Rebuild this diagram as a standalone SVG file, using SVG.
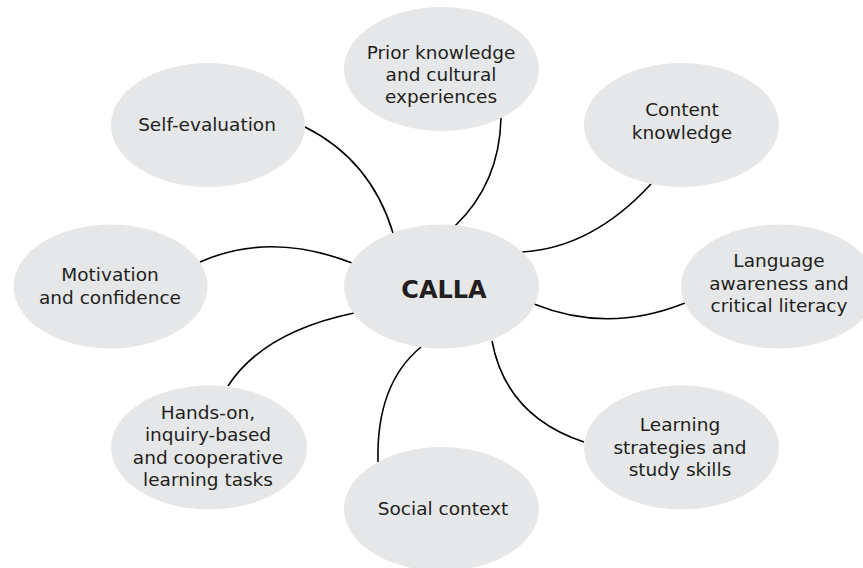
<svg xmlns="http://www.w3.org/2000/svg" width="863" height="568" viewBox="0 0 863 568">
<style>
.node ellipse{fill:#e6e7e8;stroke:none}
.node text{font-family:"DejaVu Sans","Liberation Sans",sans-serif;font-size:18.5px;fill:#231f20;text-anchor:middle}
#calla text{font-size:24px;font-weight:bold}
#connectors path{fill:none;stroke:#000;stroke-width:1.6}
</style>
<rect width="863" height="568" fill="#fff"/>
<g id="connectors">
<path d="M305,127 Q371,160 393,233"/>
<path d="M200,262 Q270,231 352,263"/>
<path d="M501,118 C500,165 482,200 455,226"/>
<path d="M651,184 Q592,248 522,252"/>
<path d="M534,304 Q608,334 685,303"/>
<path d="M492,341 Q506,416 584,442"/>
<path d="M378,462 Q376,384 421,347"/>
<path d="M228,386 Q263,332 354,313"/>
</g>
<g id="self-evaluation" class="node">
<ellipse cx="208" cy="125" rx="97" ry="62"/>
<text x="207" y="131">Self-evaluation</text>
</g>
<g id="prior-knowledge" class="node">
<ellipse cx="441.5" cy="69" rx="97.5" ry="62"/>
<text x="441" y="59">Prior knowledge</text>
<text x="441" y="81">and cultural</text>
<text x="441" y="103">experiences</text>
</g>
<g id="content-knowledge" class="node">
<ellipse cx="681.5" cy="125" rx="97.5" ry="62"/>
<text x="682" y="116">Content</text>
<text x="682" y="139">knowledge</text>
</g>
<g id="motivation" class="node">
<ellipse cx="110.5" cy="286.5" rx="97" ry="62"/>
<text x="110" y="281">Motivation</text>
<text x="110" y="304">and confidence</text>
</g>
<g id="calla" class="node">
<ellipse cx="441.5" cy="286.5" rx="97.5" ry="62"/>
<text x="444" y="298">CALLA</text>
</g>
<g id="language-awareness" class="node">
<ellipse cx="779" cy="286.5" rx="98" ry="62"/>
<text x="779" y="267">Language</text>
<text x="779" y="290">awareness and</text>
<text x="779" y="312">critical literacy</text>
</g>
<g id="hands-on" class="node">
<ellipse cx="209" cy="447.5" rx="98" ry="62"/>
<text x="208" y="419">Hands-on,</text>
<text x="208" y="441">inquiry-based</text>
<text x="208" y="464">and cooperative</text>
<text x="208" y="486">learning tasks</text>
</g>
<g id="social-context" class="node">
<ellipse cx="441.5" cy="509" rx="97.5" ry="62"/>
<text x="443" y="515">Social context</text>
</g>
<g id="learning-strategies" class="node">
<ellipse cx="681.5" cy="447.5" rx="97.5" ry="62"/>
<text x="680" y="431">Learning</text>
<text x="680" y="454">strategies and</text>
<text x="680" y="476">study skills</text>
</g>
</svg>
